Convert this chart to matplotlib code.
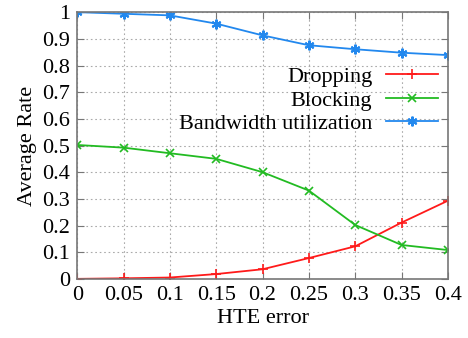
import matplotlib

matplotlib.use("Agg")
import matplotlib.pyplot as plt  # noqa: E402

hte_error = [0, 0.05, 0.1, 0.15, 0.2, 0.25, 0.3, 0.35, 0.4]
dropping = [0.0, 0.002, 0.005, 0.018, 0.036, 0.078, 0.122, 0.211, 0.293]
blocking = [0.502, 0.492, 0.471, 0.45, 0.40, 0.331, 0.202, 0.127, 0.108]
bandwidth = [1.0, 0.994, 0.988, 0.957, 0.913, 0.876, 0.861, 0.848, 0.839]

x_ticks = [0, 0.05, 0.1, 0.15, 0.2, 0.25, 0.3, 0.35, 0.4]
x_labels = ["0", "0.05", "0.1", "0.15", "0.2", "0.25", "0.3", "0.35", "0.4"]
y_ticks = [0, 0.1, 0.2, 0.3, 0.4, 0.5, 0.6, 0.7, 0.8, 0.9, 1.0]
y_labels = ["0", "0.1", "0.2", "0.3", "0.4", "0.5", "0.6", "0.7", "0.8", "0.9", "1"]

plt.rcParams["font.family"] = ["Liberation Serif", "DejaVu Serif"]
plt.rcParams["font.size"] = 16

fig = plt.figure(figsize=(4.68, 3.38), dpi=100)
ax = fig.add_axes([0.165, 0.175, 0.792, 0.789])

ax.plot(hte_error, dropping, color="#ff1a1a", marker="+", ms=7, mew=1.2, lw=1.3, label="Dropping")
ax.plot(hte_error, blocking, color="#22bb22", marker="x", ms=6, mew=1.2, lw=1.3, label="Blocking")
ax.plot(hte_error, bandwidth, color="#2288ee", marker=(6, 2, 0), ms=7, mew=1.5, lw=1.3, label="Bandwidth utilization")

ax.set_xlim(0, 0.4)
ax.set_ylim(0, 1)
ax.set_xticks(x_ticks, x_labels)
ax.set_yticks(y_ticks, y_labels)
ax.grid(True, color="#aaaaaa", linestyle=(0, (1.5, 2.5)), lw=0.8)
ax.tick_params(direction="in", top=True, right=True, length=5, color="#777777", pad=5)
for s in ax.spines.values():
    s.set_color("#777777")
    s.set_linewidth(1.2)

ax.set_xlabel("HTE error", labelpad=3)
ax.set_ylabel("Average Rate", labelpad=4)

ax.legend(loc="upper right", bbox_to_anchor=(1.0, 0.833), frameon=False, markerfirst=False,
          handlelength=2.35, labelspacing=0.13, borderaxespad=0.05, handletextpad=0.6)

fig.savefig("out.png", dpi=100)
